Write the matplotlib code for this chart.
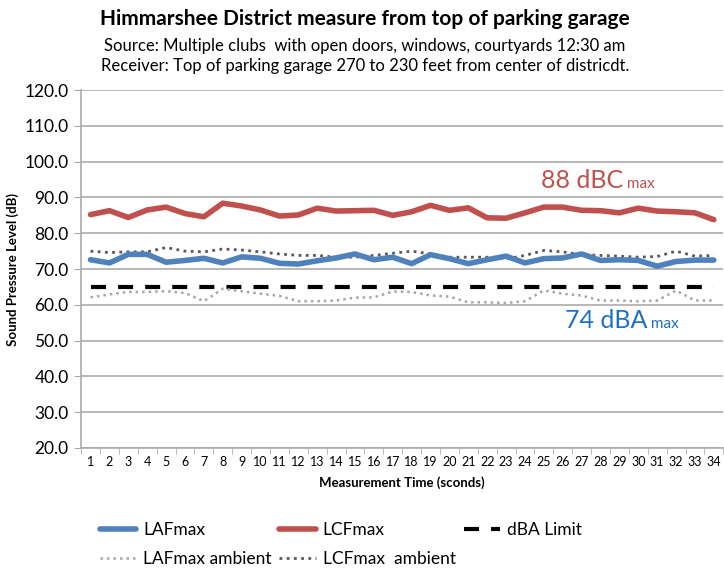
import numpy as np
import matplotlib.pyplot as plt

plt.rcParams['font.family'] = ['Lato', 'DejaVu Sans']

seconds = list(range(1, 35))
laf_max = [72.6, 71.7, 74.1, 74.1, 71.9, 72.4, 73.0, 71.7, 73.4, 73.0, 71.6, 71.4,
           72.3, 73.1, 74.2, 72.6, 73.3, 71.5, 74.0, 72.9, 71.5, 72.6, 73.6, 71.7,
           72.9, 73.1, 74.2, 72.4, 72.6, 72.4, 70.8, 72.1, 72.5, 72.5]
lcf_max = [85.2, 86.3, 84.4, 86.5, 87.3, 85.5, 84.6, 88.4, 87.6, 86.5, 84.8, 85.1,
           87.0, 86.2, 86.3, 86.4, 85.0, 86.0, 87.8, 86.4, 87.1, 84.3, 84.2, 85.7,
           87.3, 87.3, 86.4, 86.3, 85.7, 87.0, 86.2, 86.0, 85.7, 83.8]
laf_ambient = [62.1, 62.9, 63.6, 63.6, 63.8, 63.3, 61.0, 64.5, 63.8, 63.1, 62.5, 61.0,
               61.0, 61.2, 62.0, 62.1, 63.7, 63.6, 62.6, 62.3, 60.7, 60.7, 60.5, 61.0,
               64.0, 63.1, 62.6, 61.2, 61.2, 61.0, 61.2, 64.0, 61.2, 61.2]
lcf_ambient = [75.0, 74.6, 74.8, 74.8, 76.0, 75.0, 74.8, 75.6, 75.3, 74.8, 74.2, 73.8,
               73.8, 73.3, 73.3, 73.8, 74.4, 75.0, 74.2, 73.3, 73.3, 73.3, 72.8, 73.8,
               75.2, 74.8, 74.0, 73.8, 73.6, 73.3, 73.5, 75.0, 73.6, 73.8]
dba_limit = 65.0

fig = plt.figure(figsize=(7.24, 5.69), dpi=100)
ax = fig.add_axes([0.112, 0.2127, 0.887, 0.629])

grid_c = '#ababab'
lim_line, = ax.plot(seconds, [dba_limit] * len(seconds), color='black', lw=3.0,
                    dashes=(3.6, 2.9), label='dBA Limit', zorder=3)
laf_a, = ax.plot(seconds, laf_ambient, color='#a6a6a6', lw=1.8, ls=(0, (1, 1.6)),
                 label='LAFmax ambient', zorder=3)
lcf_a, = ax.plot(seconds, lcf_ambient, color='#595959', lw=2.0, ls=(0, (1, 1.6)),
                 label='LCFmax  ambient', zorder=3)
laf_l, = ax.plot(seconds, laf_max, color='#4f81bd', lw=4.0, label='LAFmax', zorder=4,
                 solid_capstyle='round', solid_joinstyle='round')
lcf_l, = ax.plot(seconds, lcf_max, color='#c0504d', lw=4.0, label='LCFmax', zorder=4,
                 solid_capstyle='round', solid_joinstyle='round')

ax.set_xlim(0.5, 34.5)
ax.set_ylim(20, 120)
ax.set_yticks(np.arange(20, 121, 10))
ax.set_yticklabels([f'{v:.1f}' for v in np.arange(20, 121, 10)], fontsize=12.5)
ax.set_xticks(seconds)
ax.set_xticklabels([str(s) for s in seconds], fontsize=9)
ax.set_xticks(np.arange(0.5, 35, 1), minor=True)
ax.tick_params(axis='x', which='major', length=0, pad=6)
ax.tick_params(axis='x', which='minor', length=4, color=grid_c, direction='out')
ax.tick_params(axis='y', length=5, color=grid_c, pad=4)
ax.yaxis.grid(True, color=grid_c, lw=1.2)
ax.set_axisbelow(True)
for s in ['top', 'right']:
    ax.spines[s].set_visible(False)
for s in ['left', 'bottom']:
    ax.spines[s].set_color(grid_c)
    ax.spines[s].set_linewidth(1.2)

ax.set_xlabel('Measurement Time (sconds)', fontsize=9.5, fontweight='bold', labelpad=6)
ax.set_ylabel('Sound Pressure Level (dB)', fontsize=9.5, fontweight='bold', labelpad=4)

fig.text(0.504, 0.966, 'Himmarshee District measure from top of parking garage',
         ha='center', va='center', fontsize=15, fontweight='bold')
fig.text(0.504, 0.919, 'Source: Multiple clubs  with open doors, windows, courtyards 12:30 am',
         ha='center', va='center', fontsize=12)
fig.text(0.504, 0.884, 'Receiver: Top of parking garage 270 to 230 feet from center of districdt.',
         ha='center', va='center', fontsize=12)

red_t = fig.text(541 / 724, 1 - 181 / 569, '88 dBC', color='#c0504d', fontsize=18,
                 va='center', ha='left')
ax.annotate(' max', xy=(1, 0.05), xycoords=red_t, color='#c0504d', fontsize=11,
            va='bottom', ha='left')
blue_t = fig.text(565 / 724, 1 - 321 / 569, '74 dBA', color='#1f70c1', fontsize=18,
                  va='center', ha='left')
ax.annotate(' max', xy=(1, 0.05), xycoords=blue_t, color='#1f70c1', fontsize=11,
            va='bottom', ha='left')

handles = [laf_l, laf_a, lcf_l, lcf_a, lim_line]
fig.legend(handles=handles, labels=[h.get_label() for h in handles], ncol=3,
           loc='upper left', bbox_to_anchor=(0.1257, 0.097), frameon=False,
           fontsize=12.5, handlelength=2.1, columnspacing=0.45, handletextpad=0.4,
           labelspacing=0.7, borderpad=0)

fig.savefig('out.png', dpi=100)
